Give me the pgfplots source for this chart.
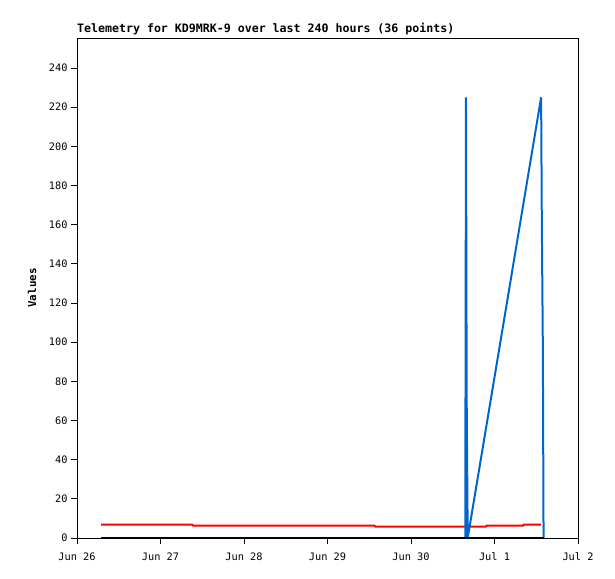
\documentclass[border=0pt]{standalone}
\usepackage{fontspec}
\setmainfont{DejaVu Sans Mono}
\usepackage{pgfplots}
\pgfplotsset{compat=1.18}
\definecolor{tblue}{RGB}{0,102,204}
\begin{document}
\begin{tikzpicture}
\path[use as bounding box] (-77bp,-41bp) rectangle (538bp,538bp);
\begin{axis}[
  at={(0,0)}, anchor=south west,
  scale only axis, width=501bp, height=500bp,
  xmin=0, xmax=144, ymin=0, ymax=255.3,
  xtick={0,24,48,72,96,120,144},
  xticklabels={Jun 26,Jun 27,Jun 28,Jun 29,Jun 30,Jul 1,Jul 2},
  ytick={0,20,...,240},
  tick align=outside,
  major tick length=6bp,
  xtick pos=bottom, ytick pos=left,
  tick style={black, line width=0.8bp},
  axis line style={line width=0.8bp},
  /pgf/number format/assume math mode=true,
  ticklabel style={font=\fontsize{10.3bp}{12bp}\selectfont},
  xticklabel style={yshift=-5bp},
  yticklabel style={xshift=0bp},
  ylabel={\textbf{Values}},
  ylabel style={font=\fontsize{10.8bp}{12bp}\selectfont, at={(-45bp,0.5)}, anchor=center},
  clip=true,
]
\addplot[red, line width=2bp] coordinates {
 (6.9,6.8) (33.1,6.8) (33.4,6.3) (85.5,6.3) (85.8,5.8) (117.5,5.8) (117.8,6.3) (128.2,6.3) (128.4,6.8) (133.3,6.8)
};
\addplot[tblue, line width=2bp] coordinates {
 (6.9,0) (111.6,0) (111.8,225) (112.0,72) (112.3,0) (133.4,225) (133.6,161) (133.9,96) (134.1,0)
};
\addplot[black, line width=2.2bp] coordinates {
 (6.9,0) (134.1,0)
};
\end{axis}
\node[anchor=south west, inner sep=0pt, font=\fontsize{11.6bp}{13bp}\selectfont\bfseries] at (0bp,503bp) {Telemetry for KD9MRK-9 over last 240 hours (36 points)};
\end{tikzpicture}
\end{document}
